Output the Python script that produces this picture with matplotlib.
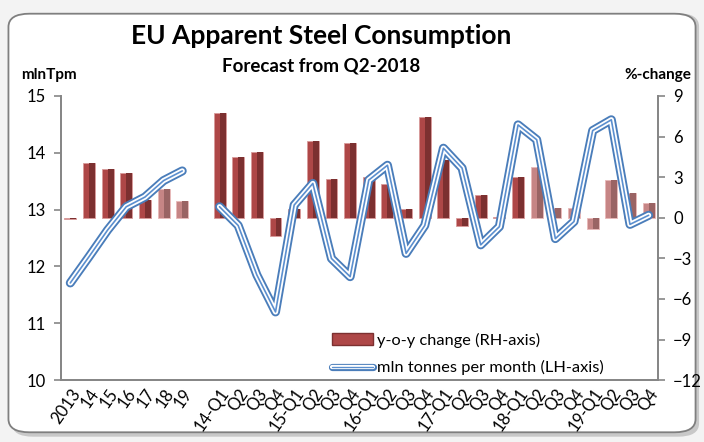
import numpy as np
import matplotlib
matplotlib.use("Agg")
import matplotlib.pyplot as plt
from matplotlib.patches import FancyBboxPatch
from matplotlib.lines import Line2D
from matplotlib.patches import Patch

plt.rcParams['font.family'] = ['Lato', 'DejaVu Sans']

# categories: annual, gap, quarterly
labels = ['2013', '14', '15', '16', '17', '18', '19', '',
          '14-Q1', 'Q2', 'Q3', 'Q4', '15-Q1', 'Q2', 'Q3', 'Q4',
          '16-Q1', 'Q2', 'Q3', 'Q4', '17-Q1', 'Q2', 'Q3', 'Q4',
          '18-Q1', 'Q2', 'Q3', 'Q4', '19-Q1', 'Q2', 'Q3', 'Q4']

# mln tonnes per month (LH axis)
tonnes = [11.71, 12.17, 12.64, 13.05, 13.22, 13.51, 13.68, np.nan,
          13.05, 12.72, 11.85, 11.20, 13.08, 13.46, 12.14, 11.82,
          13.52, 13.78, 12.23, 12.72, 14.08, 13.73, 12.38, 12.70,
          14.49, 14.23, 12.49, 12.79, 14.39, 14.58, 12.74, 12.90]

# y-o-y change % (RH axis)
yoy = [-0.1, 4.02, 3.58, 3.33, 1.31, 2.10, 1.21, np.nan,
       7.72, 4.51, 4.83, -1.33, 0.62, 5.70, 2.84, 5.55,
       2.99, 2.47, 0.62, 7.43, 4.25, -0.63, 1.66, 0.05,
       3.03, 3.77, 0.69, 0.69, -0.82, 2.79, 1.80, 1.06]

# forecast flag (lighter bars)
forecast = [0, 0, 0, 0, 0, 1, 1, 0,
            0, 0, 0, 0, 0, 0, 0, 0,
            0, 0, 0, 0, 0, 0, 0, 0,
            0, 1, 1, 1, 1, 1, 1, 1]

x = np.arange(len(labels))
fig = plt.figure(figsize=(7.04, 4.42), dpi=100)
fig.patch.set_facecolor('#F3F3F3')

# rounded frame with shadow
shadow = FancyBboxPatch((0.017, 0.012), 0.976, 0.958, boxstyle="round,pad=0,rounding_size=0.03",
                        transform=fig.transFigure, facecolor='#C8C8C8', edgecolor='none', zorder=-3)
frame = FancyBboxPatch((0.012, 0.022), 0.976, 0.947, boxstyle="round,pad=0,rounding_size=0.03",
                       transform=fig.transFigure, facecolor='white', edgecolor='#7F7F7F', lw=1.3, zorder=-2)
fig.patches.extend([shadow, frame])

ax = fig.add_axes([0.0866, 0.140, 0.848, 0.643])
ax2 = ax.twinx()

w = 0.64
base_c = np.where(np.array(forecast) == 1, '#C68585', '#AE4747')
dark_c = np.where(np.array(forecast) == 1, '#9A6464', '#7C3030')
edge_c = np.where(np.array(forecast) == 1, '#E8B8B8', '#D89A9A')
ax2.bar(x, yoy, width=w, color=base_c, edgecolor=edge_c, lw=0.6, zorder=2)
ax2.bar(x, yoy, width=w / 2, align='edge', color=dark_c, lw=0, zorder=3)
ax2.set_ylim(-12, 9)
ax2.set_yticks(np.arange(-12, 10, 3))

# triple-stroke line
styles = [('#4A7DBA', 6.5), ('white', 3.8), ('#5B8FCF', 1.2)]
for c, lw in styles:
    ax.plot(x, tonnes, color=c, lw=lw, solid_capstyle='round', solid_joinstyle='round', zorder=3)
ax.set_ylim(10, 15)
ax.set_yticks(range(10, 16))
ax.set_xlim(-0.5, len(labels) - 0.5)
ax.set_zorder(ax2.get_zorder() + 1)
ax.patch.set_visible(False)

ax.set_xticks(x)
ax.set_xticklabels(labels, rotation=55, ha='right', rotation_mode='anchor', fontsize=12)
ax.tick_params(axis='x', length=0, pad=4)
ax.tick_params(axis='y', length=5, width=1.2, color='#868686', pad=6, labelsize=12)
ax2.tick_params(axis='y', length=5, width=1.2, color='#868686', pad=6, labelsize=12)

for a in (ax, ax2):
    a.spines['top'].set_visible(False)
    for s in ('left', 'right', 'bottom'):
        a.spines[s].set_color('#868686')
        a.spines[s].set_linewidth(1.3)

fig.text(0.456, 0.918, 'EU Apparent Steel Consumption', ha='center', va='center',
         fontsize=19, fontweight='bold')
fig.text(0.456, 0.850, 'Forecast from Q2-2018', ha='center', va='center',
         fontsize=13.5, fontweight='bold')
fig.text(0.030, 0.830, 'mlnTpm', ha='left', va='center', fontsize=11, fontweight='bold')
fig.text(0.982, 0.830, '%-change', ha='right', va='center', fontsize=11, fontweight='bold')

line_handle = tuple(Line2D([0], [0], color=c, lw=lw * 0.8, solid_capstyle='round') for c, lw in styles)
handles = [Patch(facecolor='#AE4747', edgecolor='#7C3030'), line_handle]
leg = ax.legend(handles, ['y-o-y change (RH-axis)', 'mln tonnes per month (LH-axis)'],
                loc='lower left', bbox_to_anchor=(0.43, -0.035), frameon=False,
                fontsize=11.8, handlelength=2.5, handletextpad=0.2, labelspacing=0.75)

fig.savefig('out.png', dpi=100, facecolor=fig.get_facecolor())
